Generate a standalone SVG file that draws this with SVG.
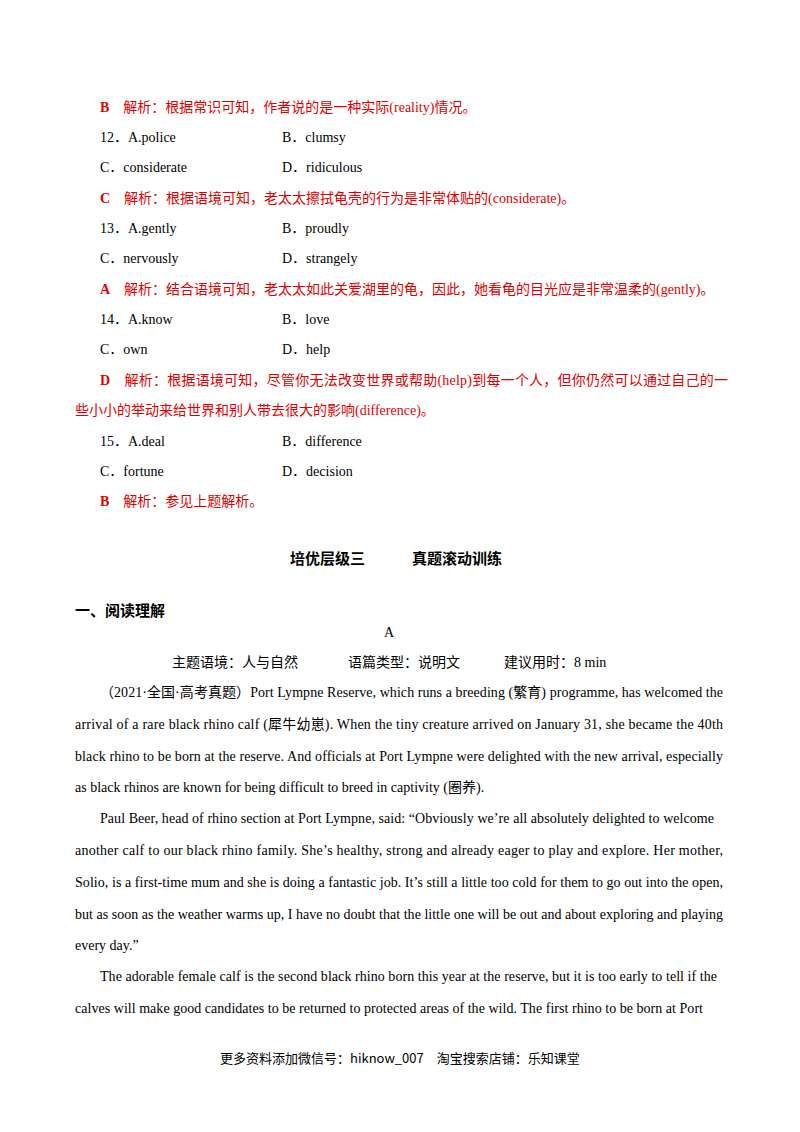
<svg xmlns="http://www.w3.org/2000/svg" width="800" height="1132" viewBox="0 0 800 1132">
<style>
text{font-family:"Liberation Serif","Noto Sans CJK SC",serif;font-size:14px;fill:#000}
.r{fill:#e00000}
.b{font-weight:bold}
.h{font-family:"Noto Sans CJK SC",sans-serif;font-weight:bold;font-size:15px}
.f{font-family:"Noto Sans CJK SC",sans-serif;font-size:13px}
</style>
<rect width="800" height="1132" fill="#fff"/>
<text x="100" y="112" class="r"><tspan class="b">B</tspan>　解析：根据常识可知，作者说的是一种实际(reality)情况。</text>
<text x="100" y="142">12．A.police</text><text x="282" y="142">B．clumsy</text>
<text x="100" y="172">C．considerate</text><text x="282" y="172">D．ridiculous</text>
<text x="100" y="203" class="r"><tspan class="b">C</tspan>　解析：根据语境可知，老太太擦拭龟壳的行为是非常体贴的(considerate)。</text>
<text x="100" y="233">13．A.gently</text><text x="282" y="233">B．proudly</text>
<text x="100" y="263">C．nervously</text><text x="282" y="263">D．strangely</text>
<text x="100" y="294" class="r"><tspan class="b">A</tspan>　解析：结合语境可知，老太太如此关爱湖里的龟，因此，她看龟的目光应是非常温柔的(gently)。</text>
<text x="100" y="324">14．A.know</text><text x="282" y="324">B．love</text>
<text x="100" y="354">C．own</text><text x="282" y="354">D．help</text>
<text x="100" y="385" class="r" textLength="628" lengthAdjust="spacing"><tspan class="b">D</tspan>　解析：根据语境可知，尽管你无法改变世界或帮助(help)到每一个人，但你仍然可以通过自己的一</text>
<text x="75" y="415" class="r">些小小的举动来给世界和别人带去很大的影响(difference)。</text>
<text x="100" y="446">15．A.deal</text><text x="282" y="446">B．difference</text>
<text x="100" y="476">C．fortune</text><text x="282" y="476">D．decision</text>
<text x="100" y="506" class="r"><tspan class="b">B</tspan>　解析：参见上题解析。</text>
<text x="290" y="564" class="h">培优层级三</text><text x="412" y="564" class="h">真题滚动训练</text>
<text x="75" y="616" class="h">一、阅读理解</text>
<text x="384" y="637">A</text>
<text x="172" y="667">主题语境：人与自然</text><text x="348" y="667">语篇类型：说明文</text><text x="504" y="667">建议用时：8 min</text>
<text x="100" y="697" textLength="623" lengthAdjust="spacing">（2021·全国·高考真题）Port Lympne Reserve, which runs a breeding (繁育) programme, has welcomed the</text>
<text x="75" y="729" textLength="648" lengthAdjust="spacing">arrival of a rare black rhino calf (犀牛幼崽). When the tiny creature arrived on January 31, she became the 40th</text>
<text x="75" y="761" textLength="648" lengthAdjust="spacing">black rhino to be born at the reserve. And officials at Port Lympne were delighted with the new arrival, especially</text>
<text x="75" y="792">as black rhinos are known for being difficult to breed in captivity (圈养).</text>
<text x="100" y="823" textLength="614" lengthAdjust="spacing">Paul Beer, head of rhino section at Port Lympne, said: “Obviously we’re all absolutely delighted to welcome</text>
<text x="75" y="855" textLength="648" lengthAdjust="spacing">another calf to our black rhino family. She’s healthy, strong and already eager to play and explore. Her mother,</text>
<text x="75" y="887" textLength="648" lengthAdjust="spacing">Solio, is a first-time mum and she is doing a fantastic job. It’s still a little too cold for them to go out into the open,</text>
<text x="75" y="919" textLength="648" lengthAdjust="spacing">but as soon as the weather warms up, I have no doubt that the little one will be out and about exploring and playing</text>
<text x="75" y="950">every day.”</text>
<text x="100" y="981" textLength="617" lengthAdjust="spacing">The adorable female calf is the second black rhino born this year at the reserve, but it is too early to tell if the</text>
<text x="75" y="1013" textLength="628" lengthAdjust="spacing">calves will make good candidates to be returned to protected areas of the wild. The first rhino to be born at Port</text>
<text x="220" y="1063" class="f">更多资料添加微信号：hiknow_007　淘宝搜索店铺：乐知课堂</text>
</svg>
